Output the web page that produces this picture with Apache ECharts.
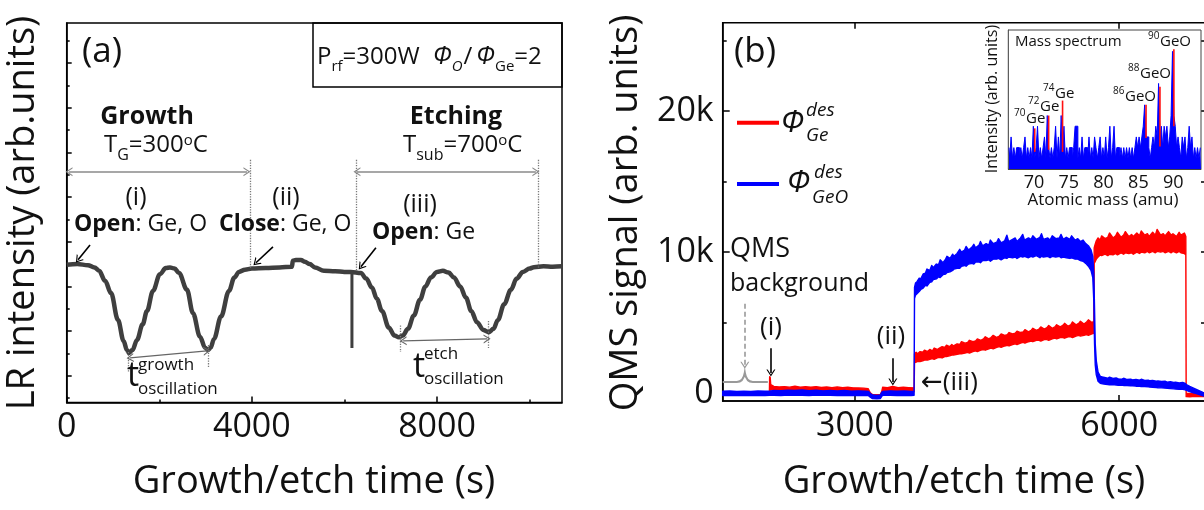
<!DOCTYPE html>
<html>
<head>
<meta charset="utf-8">
<title>LR intensity and QMS signal</title>
<script src="https://cdn.jsdelivr.net/npm/echarts@6/dist/echarts.min.js"></script>
<style>
  html, body { margin: 0; padding: 0; background: #fff; }
  #chart { width: 1204px; height: 510px; }
</style>
</head>
<body>
<div id="chart"></div>
<script>
const FONT = "'Open Sans', 'DejaVu Sans', sans-serif";

// ---------- (a) laser reflectance trace: [time s, intensity arb.] ----------
const lrTrace = [
  [0, 6.17], [230, 6.2], [460, 6.15], [600, 6.05], [700, 5.9], [830, 5.45], [957, 4.9],
  [1108, 3.7], [1230, 2.75], [1300, 2.35], [1346, 2.22], [1420, 2.35], [1518, 2.8],
  [1640, 3.5], [1734, 4.1], [1864, 5.0], [2015, 5.75], [2140, 6.02], [2231, 6.05],
  [2330, 6.0], [2426, 5.8], [2598, 5.05], [2728, 4.0], [2879, 2.95], [2990, 2.45],
  [3052, 2.35], [3110, 2.45], [3182, 2.85], [3333, 3.85], [3506, 5.0], [3622, 5.6],
  [3722, 5.85], [3850, 5.95], [4002, 6.0], [4300, 6.02], [4600, 6.05], [4866, 6.08],
  [4885, 6.35], [4950, 6.38], [5060, 6.38], [5147, 6.3], [5250, 6.2], [5363, 6.05],
  [5557, 5.9], [5800, 5.88], [6000, 5.85], [6140, 5.85], [6356, 5.8], [6470, 5.55],
  [6594, 5.15], [6700, 4.65], [6810, 4.1], [6961, 3.35], [7080, 3.0], [7177, 2.92],
  [7260, 3.0], [7372, 3.3], [7500, 3.9], [7631, 4.6], [7750, 5.2], [7868, 5.6],
  [8000, 5.85], [8127, 5.9], [8250, 5.82], [8365, 5.6], [8500, 5.2], [8624, 4.7],
  [8740, 4.1], [8862, 3.6], [9000, 3.25], [9121, 3.15], [9220, 3.3], [9315, 3.7],
  [9450, 4.4], [9596, 5.05], [9720, 5.55], [9855, 5.85], [10000, 6.0], [10093, 6.06],
  [10300, 6.1], [10500, 6.08], [10700, 6.1]
];
const lrSpike = [[6162, 5.85], [6162, 2.44]];

const aTimeLabels = [0, 4000, 8000];
const aTimeMinor = [2000, 6000, 10000];
const aTickMajor = [1.2, 3.2, 5.2, 7.2, 9.2, 11.2, 13.2, 15.2];
const aTickMinor = [0.2, 2.2, 4.2, 6.2, 8.2, 10.2, 12.2, 14.2, 16.2];

// annotation lines of (a), in data coordinates
const aSpanArrows = [[[50, 10.34], [3894, 10.34]], [[6270, 10.34], [10136, 10.34]]];
const aGuideLines = [
  [[3959, 10.87], [3959, 6.03]], [[6248, 10.87], [6248, 5.9]], [[10180, 10.87], [10180, 6.05]],
  [[1324, 2.26], [1324, 1.37]], [[3054, 2.58], [3054, 1.55]],
  [[7199, 3.45], [7199, 2.26]], [[9100, 3.65], [9100, 2.44]]
];
const aPeriodArrows = [[[1369, 2.0], [3030, 2.31]], [[7268, 2.76], [9082, 2.85]]];
const aEventArrows = [
  [[504, 7.06], [246, 6.39]], [[4456, 6.97], [4089, 6.26]], [[6680, 6.93], [6356, 6.08]]
];

// ---------- (b) QMS desorption signals: [time s, band low, band high] ----------
const geBand = [
  [1500, -110, 90], [1600, -120, 100], [1700, -100, 80], [1800, -120, 90], [1900, -110, 100], [2030, -100, 90],
  [2033, -100, 1170], [2039, 250, 1120], [2045, 300, 620],
  [2080, 170, 480], [2140, 150, 440], [2200, 190, 470], [2260, 140, 430], [2320, 170, 500], [2380, 150, 420],
  [2440, 160, 460], [2500, 130, 420], [2560, 150, 470], [2620, 130, 410], [2680, 140, 440], [2740, 120, 400],
  [2800, 130, 450], [2860, 110, 390], [2920, 120, 420], [2980, 100, 380], [3040, 90, 370], [3100, 80, 360],
  [3150, 60, 330], [3175, -200, 30], [3200, -340, -90], [3250, -360, -110], [3290, -330, -80], [3305, -120, 120],
  [3315, 120, 420], [3370, 110, 400], [3430, 150, 480], [3490, 100, 390], [3550, 130, 420], [3610, 100, 400],
  [3672, 110, 380],
  [3677, 2150, 2800], [3695, 2200, 2900], [3712, 2250, 2800], [3740, 2250, 2950], [3770, 2300, 2900],
  [3790, 2350, 3050], [3825, 2350, 2950], [3850, 2400, 3100], [3880, 2450, 3000], [3900, 2400, 3200],
  [3935, 2500, 3100], [3960, 2550, 3200], [3990, 2500, 3300], [4020, 2600, 3250], [4040, 2600, 3400],
  [4075, 2650, 3300], [4100, 2700, 3450], [4120, 2700, 3350], [4160, 2750, 3500], [4190, 2800, 3450],
  [4210, 2800, 3650], [4250, 2850, 3550], [4280, 2900, 3600], [4300, 2850, 3750], [4340, 2950, 3650],
  [4370, 3000, 3700], [4390, 2950, 3850], [4430, 3050, 3750], [4460, 3100, 3850], [4480, 3050, 4000],
  [4520, 3150, 3850], [4545, 3200, 3950], [4570, 3150, 4100], [4610, 3250, 3950], [4640, 3300, 4050],
  [4660, 3250, 4200], [4700, 3350, 4100], [4730, 3400, 4150], [4750, 3350, 4300], [4790, 3450, 4200],
  [4820, 3500, 4250], [4840, 3450, 4400], [4880, 3550, 4300], [4910, 3600, 4350], [4930, 3550, 4500],
  [4970, 3650, 4350], [5000, 3700, 4450], [5020, 3650, 4600], [5060, 3750, 4450], [5090, 3750, 4550],
  [5110, 3700, 4700], [5150, 3800, 4550], [5180, 3800, 4650], [5200, 3750, 4800], [5240, 3850, 4600],
  [5270, 3900, 4700], [5290, 3850, 4850], [5330, 3950, 4700], [5360, 3950, 4800], [5380, 3900, 4950],
  [5420, 4000, 4750], [5450, 4000, 4850], [5470, 3950, 5050], [5510, 4050, 4850], [5540, 4100, 4950],
  [5560, 4050, 5100], [5600, 4100, 4900], [5630, 4150, 5050], [5650, 4100, 5200], [5690, 4200, 5000],
  [5712, 4250, 5100],
  [5716, 9200, 10300], [5725, 9300, 10500], [5740, 9500, 10800], [5760, 9650, 11000], [5785, 9800, 10850],
  [5800, 9750, 11150], [5840, 9850, 10950], [5870, 9750, 11050], [5890, 9850, 11350], [5930, 9800, 11000],
  [5960, 9900, 11150], [5980, 9800, 11400], [6020, 9950, 11050], [6050, 9850, 11200], [6070, 9950, 11450],
  [6110, 9900, 11100], [6140, 9950, 11250], [6160, 9850, 11100], [6200, 10000, 11350], [6230, 9900, 11150],
  [6250, 10000, 11500], [6290, 9950, 11200], [6320, 10050, 11300], [6340, 9950, 11100], [6380, 10050, 11400],
  [6410, 9950, 11200], [6430, 10050, 11600], [6470, 10000, 11200], [6500, 10050, 11300], [6520, 9950, 11150],
  [6560, 10050, 11450], [6590, 9950, 11200], [6610, 10050, 11300], [6650, 9950, 11100], [6680, 10050, 11400],
  [6700, 9950, 11200], [6740, 9900, 11350], [6756, 9800, 11100],
  [6760, -240, 0], [6800, -250, -20], [6860, -220, 0], [6920, -240, -10], [6985, -230, 0]
];
const geoBand = [
  [1500, -160, 140], [1580, -140, 160], [1660, -170, 130], [1740, -150, 150], [1820, -160, 120],
  [1900, -140, 160], [1980, -170, 140], [2030, -150, 150], [2080, -140, 200], [2160, -160, 180],
  [2240, -130, 220], [2320, -150, 190], [2400, -140, 230], [2480, -160, 180], [2560, -130, 210],
  [2640, -150, 170], [2720, -140, 200], [2800, -160, 160], [2880, -150, 190], [2960, -170, 150],
  [3040, -150, 170], [3120, -160, 140], [3155, -170, 120], [3175, -280, -20], [3200, -380, -130],
  [3250, -400, -150], [3290, -370, -120], [3305, -200, 60], [3320, -150, 130], [3400, -140, 170],
  [3480, -160, 140], [3560, -150, 160], [3640, -160, 130], [3672, -150, 150],
  [3677, 6700, 7500], [3688, 6950, 7800], [3705, 7050, 7900], [3730, 7200, 8150], [3748, 7350, 8100],
  [3775, 7450, 8450], [3800, 7650, 8500], [3818, 7600, 8800], [3850, 7850, 8700], [3872, 7900, 9050],
  [3890, 8050, 8900], [3925, 8100, 9150], [3950, 8250, 9100], [3968, 8200, 9450], [4000, 8400, 9250],
  [4030, 8450, 9500], [4045, 8550, 9700], [4080, 8600, 9550], [4110, 8700, 9850], [4125, 8800, 9700],
  [4160, 8850, 9900], [4190, 8850, 10200], [4210, 9000, 10000], [4245, 9050, 10150], [4262, 9000, 10400],
  [4290, 9150, 10150], [4330, 9200, 10350], [4350, 9150, 10550], [4370, 9300, 10300], [4410, 9300, 10500],
  [4425, 9250, 10750], [4450, 9400, 10450], [4490, 9400, 10600], [4520, 9450, 10500], [4538, 9350, 10850],
  [4570, 9500, 10600], [4610, 9500, 10700], [4630, 9550, 10950], [4660, 9450, 10650], [4700, 9600, 10800],
  [4725, 9550, 11200], [4745, 9650, 10750], [4790, 9600, 10900], [4820, 9650, 11000], [4840, 9550, 10750],
  [4880, 9700, 11000], [4905, 9650, 11250], [4925, 9700, 10850], [4970, 9600, 11000], [5000, 9700, 10900],
  [5020, 9650, 11150], [5060, 9750, 10900], [5100, 9600, 11050], [5118, 9700, 11300], [5140, 9650, 10900],
  [5190, 9700, 11000], [5215, 9600, 10850], [5240, 9700, 11150], [5280, 9650, 10950], [5320, 9700, 11000],
  [5340, 9600, 11250], [5365, 9650, 10900], [5400, 9600, 11050], [5440, 9550, 10900], [5460, 9600, 11150],
  [5500, 9500, 10850], [5530, 9500, 10950], [5560, 9400, 10750], [5590, 9350, 10850], [5620, 9200, 10600],
  [5650, 9000, 10450], [5680, 8700, 10150], [5700, 8200, 9700], [5712, 6500, 8500], [5720, 3500, 6000],
  [5728, 2000, 3500], [5740, 1300, 2300],
  [5760, 850, 1500], [5785, 700, 1200], [5810, 660, 1150], [5845, 640, 1100], [5870, 620, 1060],
  [5890, 600, 1140], [5930, 610, 1050], [5965, 580, 1080], [5990, 570, 1020], [6030, 580, 1000],
  [6055, 540, 1060], [6090, 550, 970], [6130, 520, 1000], [6150, 530, 950], [6190, 500, 980],
  [6230, 490, 930], [6250, 470, 990], [6290, 480, 900], [6330, 450, 920], [6350, 430, 880],
  [6380, 420, 900], [6420, 410, 850], [6440, 390, 870], [6480, 380, 830], [6520, 360, 850],
  [6545, 350, 790], [6580, 330, 810], [6620, 310, 770], [6640, 300, 790], [6680, 280, 730],
  [6720, 270, 760], [6750, 240, 690], [6762, 200, 620], [6800, 110, 480], [6850, 20, 340],
  [6900, -80, 200], [6950, -180, 60], [6985, -230, -20]
];

const bTimeLabels = [3000, 6000];
const bSignalLabels = [0, 10000, 20000];
const bSignalMinor = [5000, 15000, 25000];
const bRightTicks = [0, 5000, 10000, 15000, 20000, 25000];

// annotation lines of (b), in data coordinates
const bEventArrows = [[[2047, 3180], [2047, 1430]], [[3431, 2480], [3431, 790]]];
const bBackgroundArrow = [[1751, 6340], [1751, 1990]];
const bBrace = { from: 1500, peak: 1751, to: 2012, level: 800, top: 1450 };

// ---------- inset: mass spectrum (counts on a 0.2 amu grid from 66.4 amu) ----------
const specStart = 66.4;
const specStep = 0.2;
const specLevels = [
  2, 1, 3, 1, 2,  1, 2, 2, 1, 2,  1, 2, 3, 1, 2,  1, 2, 1, 4, 1,
  2, 4, 1, 2, 1,  2, 3, 1, 5, 2,  1, 2, 1, 2, 4,  1, 3, 1, 5, 2,
  4, 1, 2, 1, 2,  2, 1, 2, 4, 4,  1, 2, 1, 3, 1,  2, 2, 1, 3, 1,
  2, 1, 3, 2, 1,  2, 3, 1, 2, 1,  3, 1, 2, 4, 1,  2, 4, 1, 2, 2,
  1, 2, 1, 2, 1,  2, 1, 2, 1, 2,  1, 2, 3, 2, 3,  2, 3, 4, 6, 3,
  3, 2, 1, 2, 3,  2, 4, 3, 8, 3,  4, 2, 4, 3, 4,  2, 3, 5, 11, 5,
  4, 2, 3, 2, 1,  3, 2, 3, 1, 2,  4, 2, 3, 1, 2,  1, 2, 1, 2
];
// Ge-reference lines: [mass, visible from, visible to]
const specRedLines = [
  [70.1, 1.6, 3.8], [72.1, 1.8, 5.0], [74.1, 1.6, 6.4],
  [86.1, 2.9, 6.0], [88.1, 2.1, 7.7], [90.1, 4.0, 11.2]
];
const specMassLabels = [70, 75, 80, 85, 90];

// ---------- helpers ----------
const CHEV = 'path://M0,8 L5,0 L10,8 L8.6,8 L5,2.4 L1.4,8 Z';
const measure = document.createElement('canvas').getContext('2d');
const fontOf = p => `${p.i ? 'italic ' : ''}${p.b ? 'bold ' : ''}${p.s}px ${FONT}`;
const graphics = [];

// place a run of text pieces (baseline-based, with sub/superscript shifts)
function run(x, base, parts, color) {
  let cx = x;
  parts.forEach(p => {
    const f = fontOf(p);
    measure.font = f;
    const w = measure.measureText(p.t).width;
    cx += p.dx || 0;
    graphics.push({
      type: 'text', x: cx, y: base + (p.dy || 0) - 0.39 * p.s, z: 50, silent: true,
      style: { text: p.t, font: f, fill: p.c || color || '#111', align: 'left', verticalAlign: 'middle' }
    });
    cx += w;
  });
}
function ctext(x, base, t, s, opt) {
  opt = opt || {};
  const p = { t, s, b: opt.b, i: opt.i };
  graphics.push({
    type: 'text', x, y: base - 0.39 * s, z: 50, silent: true, rotation: opt.rot || 0,
    style: { text: t, font: fontOf(p), fill: opt.c || '#111', align: opt.align || 'center', verticalAlign: 'middle' }
  });
}

function lineItem(a, b, style, startSym, endSym) {
  return [
    { coord: a, symbol: startSym ? CHEV : 'none', symbolSize: [9, 7], lineStyle: style },
    { coord: b, symbol: endSym ? CHEV : 'none', symbolSize: [9, 7] }
  ];
}

// ---------- text of (a) ----------
ctext(102, 66, '(a)', 35);
run(317, 67, [{ t: 'P', s: 24 }, { t: 'rf', s: 15, dy: 6 }, { t: '=300W', s: 24 }]);
run(433, 67, [
  { t: 'Φ', s: 25, i: 1 }, { t: 'O', s: 15, i: 1, dy: 6 }, { t: '/', s: 24, dx: 1 },
  { t: 'Φ', s: 25, i: 1, dx: 4 }, { t: 'Ge', s: 15, dy: 6 }, { t: '=2', s: 24 }
]);
ctext(147, 127, 'Growth', 25, { b: 1 });
run(104, 155, [{ t: 'T', s: 24 }, { t: 'G', s: 16, dy: 7 }, { t: '=300', s: 24 }, { t: 'o', s: 15, dy: -8 }, { t: 'C', s: 24 }]);
ctext(456, 127, 'Etching', 25, { b: 1 });
run(403, 155, [{ t: 'T', s: 24 }, { t: 'sub', s: 16, dy: 7 }, { t: '=700', s: 24 }, { t: 'o', s: 15, dy: -8 }, { t: 'C', s: 24 }]);
ctext(136, 208, '(i)', 25);
ctext(286, 208, '(ii)', 25);
ctext(420, 215, '(iii)', 25);
run(74, 233, [{ t: 'Open', s: 23, b: 1 }, { t: ': Ge, O', s: 23 }]);
run(219, 233, [{ t: 'Close', s: 23, b: 1 }, { t: ': Ge, O', s: 23 }]);
run(372, 241, [{ t: 'Open', s: 23, b: 1 }, { t: ': Ge', s: 23 }]);
run(127, 390, [{ t: 't', s: 34 }]);
run(138, 372, [{ t: 'growth', s: 17 }]);
run(138, 396, [{ t: 'oscillation', s: 17 }]);
run(413, 381, [{ t: 't', s: 34 }]);
run(424, 361, [{ t: 'etch', s: 17 }]);
run(424, 386, [{ t: 'oscillation', s: 17 }]);
ctext(314, 497, 'Growth/etch time (s)', 38);
ctext(23, 213 + 0.39 * 38, 'LR intensity (arb.units)', 38, { rot: Math.PI / 2 });

// ---------- text of (b) ----------
ctext(755, 66, '(b)', 35);
run(781, 135, [{ t: 'Φ', s: 31, i: 1 }]);
run(806, 118, [{ t: 'des', s: 19, i: 1 }]);
run(806, 143, [{ t: 'Ge', s: 19, i: 1 }]);
run(787, 195, [{ t: 'Φ', s: 31, i: 1 }]);
run(814, 180, [{ t: 'des', s: 19, i: 1 }]);
run(812, 205, [{ t: 'GeO', s: 19, i: 1 }]);
run(730, 260, [{ t: 'QMS', s: 27 }]);
run(730, 294, [{ t: 'background', s: 25 }]);
ctext(771, 338, '(i)', 26);
ctext(891, 347, '(ii)', 26);
run(921, 393, [{ t: '←(iii)', s: 26 }]);
ctext(964, 497, 'Growth/etch time (s)', 38);
ctext(626, 213 + 0.39 * 38, 'QMS signal (arb. units)', 38, { rot: Math.PI / 2 });

// legend strokes
graphics.push({ type: 'line', z: 50, silent: true, shape: { x1: 737, y1: 122.7, x2: 779, y2: 122.7 }, style: { stroke: '#ff0000', lineWidth: 4 } });
graphics.push({ type: 'line', z: 50, silent: true, shape: { x1: 737, y1: 184, x2: 779, y2: 184 }, style: { stroke: '#0000ff', lineWidth: 4 } });
// condition box of (a)
graphics.push({ type: 'rect', z: 40, silent: true, shape: { x: 313, y: 23, width: 249, height: 64 }, style: { fill: 'none', stroke: '#000', lineWidth: 1.5 } });

// ---------- text of inset ----------
run(1015, 47.5, [{ t: 'Mass spectrum', s: 15 }]);
run(1148, 40, [{ t: '90', s: 10 }]); run(1160, 48, [{ t: 'GeO', s: 15 }]);
run(1128, 72, [{ t: '88', s: 10 }]); run(1140, 80, [{ t: 'GeO', s: 15 }]);
run(1113, 95, [{ t: '86', s: 10 }]); run(1125, 103, [{ t: 'GeO', s: 15 }]);
run(1043, 92, [{ t: '74', s: 10 }]); run(1055, 100, [{ t: 'Ge', s: 15 }]);
run(1028, 105, [{ t: '72', s: 10 }]); run(1040, 113, [{ t: 'Ge', s: 15 }]);
run(1014, 117, [{ t: '70', s: 10 }]); run(1026, 125, [{ t: 'Ge', s: 15 }]);
ctext(1103, 207, 'Atomic mass (amu)', 17);
ctext(992, 99 + 0.39 * 16, 'Intensity (arb. units)', 16, { rot: Math.PI / 2 });

// ---------- axes ----------
const black = { color: '#000', width: 1.5 };
const tickLabel = { color: '#111', fontSize: 34, fontFamily: FONT, formatter: v => String(v) };
function tickAxis(base, values, len, extra) {
  return Object.assign({
    type: 'value', splitLine: { show: false },
    axisLine: { show: false, onZero: false },
    axisLabel: { show: false },
    axisTick: { show: true, inside: true, length: len, lineStyle: black, customValues: values }
  }, base, extra || {});
}

const spectrum = specLevels.map((v, i) => [Number((specStart + i * specStep).toFixed(1)), v]);

const option = {
  animation: false,
  backgroundColor: '#fff',
  textStyle: { fontFamily: FONT },
  grid: [
    { left: 66.7, top: 23, width: 495.3, height: 379.5, show: true, borderColor: '#000', borderWidth: 1.5, backgroundColor: 'transparent', outerBoundsMode: 'none' },
    { left: 722.7, top: 22.7, width: 483.3, height: 378.3, show: true, borderColor: '#000', borderWidth: 1.5, backgroundColor: 'transparent', outerBoundsMode: 'none' },
    { left: 1008.3, top: 30, width: 192.7, height: 139, show: true, borderColor: '#444', borderWidth: 1, backgroundColor: '#fff', outerBoundsMode: 'none', z: 5 }
  ],
  xAxis: [
    { type: 'value', gridIndex: 0, min: 0, max: 10700, position: 'bottom', splitLine: { show: false },
      axisLine: { show: true, onZero: false, lineStyle: black },
      axisTick: { show: true, inside: true, length: 6, lineStyle: black, customValues: aTimeLabels },
      axisLabel: Object.assign({ margin: 8, customValues: aTimeLabels }, tickLabel) },
    tickAxis({ gridIndex: 0, min: 0, max: 10700, position: 'bottom' }, aTimeMinor, 3),
    { type: 'value', gridIndex: 1, min: 1500, max: 6985, position: 'bottom', splitLine: { show: false },
      axisLine: { show: true, onZero: false, lineStyle: black },
      axisTick: { show: true, inside: true, length: 6, lineStyle: black, customValues: bTimeLabels },
      axisLabel: Object.assign({ margin: 8, customValues: bTimeLabels }, tickLabel) },
    tickAxis({ gridIndex: 1, min: 1500, max: 6985, position: 'top' }, bTimeLabels, 6),
    { type: 'value', gridIndex: 2, min: 66.3, max: 94, position: 'bottom', splitLine: { show: false },
      axisLine: { show: true, onZero: false, lineStyle: { color: '#444', width: 1 } },
      axisTick: { show: false },
      axisLabel: { margin: 5, customValues: specMassLabels, color: '#111', fontSize: 18, fontFamily: FONT } }
  ],
  yAxis: [
    tickAxis({ gridIndex: 0, min: 0, max: 17, position: 'left' }, aTickMajor, 5, { axisLine: { show: true, onZero: false, lineStyle: black } }),
    tickAxis({ gridIndex: 0, min: 0, max: 17, position: 'left' }, aTickMinor, 3),
    { type: 'value', gridIndex: 1, min: -550, max: 26250, position: 'left', splitLine: { show: false },
      axisLine: { show: true, onZero: false, lineStyle: black },
      axisTick: { show: true, inside: true, length: 7, lineStyle: black, customValues: bSignalLabels },
      axisLabel: Object.assign({}, tickLabel, { margin: 9, customValues: bSignalLabels,
        formatter: v => (v === 0 ? '0' : (v / 1000) + 'k') }) },
    tickAxis({ gridIndex: 1, min: -550, max: 26250, position: 'left' }, bSignalMinor, 4),
    tickAxis({ gridIndex: 1, min: -550, max: 26250, position: 'right' }, bRightTicks, 5),
    { type: 'value', gridIndex: 2, min: 0, max: 13, position: 'left', splitLine: { show: false },
      axisLine: { show: true, onZero: false, lineStyle: { color: '#444', width: 1 } },
      axisTick: { show: false }, axisLabel: { show: false } }
  ],
  graphic: { elements: graphics },
  series: [
    // (a) reflectance trace
    {
      type: 'line', xAxisIndex: 0, yAxisIndex: 0, data: lrTrace, smooth: 0.35, smoothMonotone: 'x',
      symbol: 'none', lineStyle: { color: '#3f3f3f', width: 4.5 }, z: 3, silent: true,
      markLine: {
        silent: true, animation: false, label: { show: false }, emphasis: { disabled: true },
        symbol: ['none', 'none'],
        data: [].concat(
          aSpanArrows.map(s => lineItem(s[0], s[1], { color: '#8a8a8a', width: 1.6, type: 'solid' }, true, true)),
          aGuideLines.map(s => lineItem(s[0], s[1], { color: '#7a7a7a', width: 1.3, type: 'dotted' }, false, false)),
          aPeriodArrows.map(s => lineItem(s[0], s[1], { color: '#666', width: 1.3, type: 'solid' }, true, true)),
          aEventArrows.map(s => lineItem(s[0], s[1], { color: '#000', width: 1.6, type: 'solid' }, false, true))
        )
      }
    },
    {
      type: 'line', xAxisIndex: 0, yAxisIndex: 0, data: lrSpike, symbol: 'none',
      lineStyle: { color: '#3f3f3f', width: 3 }, z: 3, silent: true
    },
    // (b) QMS bands: Ge first, GeO on top
    bandSeries(geBand, '#ff0000'),
    bandSeries(geoBand, '#0000ff'),
    // (b) background brace
    {
      type: 'custom', xAxisIndex: 2, yAxisIndex: 2, data: [[bBrace.from, bBrace.level]], silent: true, z: 6,
      renderItem: (params, api) => {
        const a = api.coord([bBrace.from, bBrace.level]);
        const m = api.coord([bBrace.peak, bBrace.top]);
        const b = api.coord([bBrace.to, bBrace.level]);
        const y = a[1];
        const d = `M${a[0]},${y} L${m[0] - 8},${y} C${m[0] - 3},${y} ${m[0] - 1},${y - 3} ${m[0]},${m[1]} ` +
          `C${m[0] + 1},${y - 3} ${m[0] + 3},${y} ${m[0] + 8},${y} L${b[0]},${y}`;
        return { type: 'path', shape: { pathData: d }, style: { fill: 'none', stroke: '#999', lineWidth: 2 } };
      }
    },
    // (b) annotation arrows
    {
      type: 'line', xAxisIndex: 2, yAxisIndex: 2, data: [[1500, -550]], symbol: 'none',
      lineStyle: { opacity: 0 }, silent: true, z: 6,
      markLine: {
        silent: true, animation: false, label: { show: false }, emphasis: { disabled: true },
        symbol: ['none', 'none'],
        data: [].concat(
          bEventArrows.map(s => lineItem(s[0], s[1], { color: '#000', width: 1.6, type: 'solid' }, false, true)),
          [lineItem(bBackgroundArrow[0], bBackgroundArrow[1], { color: '#999', width: 1.6, type: [5, 3] }, false, true)]
        )
      }
    },
    // inset: red reference lines
    {
      type: 'custom', xAxisIndex: 4, yAxisIndex: 5, data: specRedLines, silent: true, z: 7,
      encode: { x: 0, y: [1, 2] },
      renderItem: (params, api) => {
        const a = api.coord([api.value(0), api.value(1)]);
        const b = api.coord([api.value(0), api.value(2)]);
        return { type: 'line', shape: { x1: a[0], y1: a[1], x2: b[0], y2: b[1] }, style: { stroke: '#ff1010', lineWidth: 1.6 } };
      }
    },
    {
      type: 'line', xAxisIndex: 4, yAxisIndex: 5, data: spectrum, step: 'middle', symbol: 'none',
      lineStyle: { color: '#0000ff', width: 1 }, areaStyle: { color: '#0000ff', opacity: 1 },
      silent: true, z: 6
    }
  ]
};

function bandSeries(band, color) {
  return {
    type: 'custom', xAxisIndex: 2, yAxisIndex: 2, data: [[band[0][0], band[0][1]]], silent: true, z: 3,
    renderItem: (params, api) => {
      const upper = band.map(p => api.coord([p[0], p[2]]));
      const lower = band.slice().reverse().map(p => api.coord([p[0], p[1]]));
      return {
        type: 'polygon', shape: { points: upper.concat(lower) },
        style: { fill: color, stroke: color, lineWidth: 1.4, lineJoin: 'round' }
      };
    }
  };
}

const chart = echarts.init(document.getElementById('chart'), null, { renderer: 'canvas' });
chart.setOption(option);
</script>
</body>
</html>
